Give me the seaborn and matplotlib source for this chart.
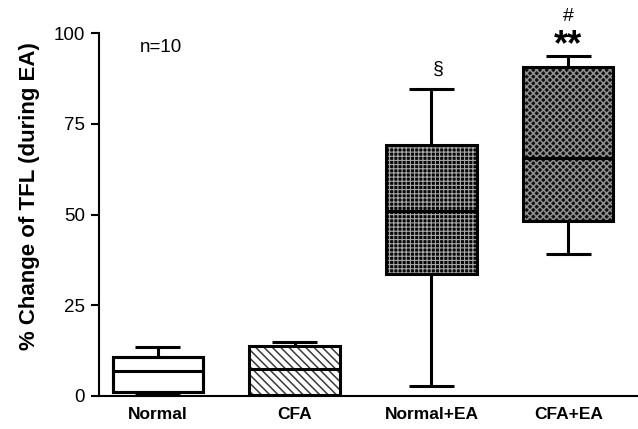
import matplotlib
matplotlib.use("Agg")
import matplotlib.pyplot as plt
from matplotlib.patches import PathPatch
import seaborn as sns
import pandas as pd

# Box summary values: [min, Q1, median, Q3, max]
groups = ["Normal", "CFA", "Normal+EA", "CFA+EA"]
normal = [0.3, 1.1, 7.0, 10.7, 13.5]
cfa = [0.4, 0.4, 7.3, 13.8, 14.8]
normal_ea = [2.8, 33.6, 51.0, 69.1, 84.6]
cfa_ea = [39.1, 48.2, 65.6, 90.6, 93.7]
yticks = [0, 25, 50, 75, 100]
annotations = [("n=10", 0.02, 96), ("§", 2.05, 90), ("**", 3, 96.6), ("#", 3, 104.6)]

rows = []
for g, vals in zip(groups, [normal, cfa, normal_ea, cfa_ea]):
    for v in vals:
        rows.append({"group": g, "value": v})
df = pd.DataFrame(rows)

sns.set_style("ticks")
plt.rcParams["font.family"] = ["Liberation Sans", "DejaVu Sans"]
plt.rcParams["hatch.linewidth"] = 1.0
plt.rcParams["text.color"] = "black"
plt.rcParams["axes.labelcolor"] = "black"
plt.rcParams["xtick.color"] = "black"
plt.rcParams["ytick.color"] = "black"
plt.rcParams["axes.edgecolor"] = "black"

fig = plt.figure(figsize=(6.38, 4.29), dpi=100)
ax = fig.add_axes([0.155, 0.077, 0.845, 0.846])

sns.boxplot(data=df, x="group", y="value", order=groups, whis=(0, 100),
            width=0.66, color="white", linecolor="black", linewidth=2.2,
            ax=ax)

boxes = [p for p in ax.patches]
styles = [
    ("white", None, "black", 1.0),
    ("white", "\\\\\\\\", "#3a3a3a", 1.1),
    ("#080808", "++++", "#a8a8a8", 0.8),
    ("#101010", "xxxxx", "#909090", 1.1),
]
for box, (fc, hatch, hc, hlw) in zip(boxes, styles):
    box.set_facecolor(fc)
    if hatch:
        box.set_hatch(hatch)
        box.set_edgecolor(hc)
        box.set_linewidth(0)
        if hasattr(box, "set_hatch_linewidth"):
            box.set_hatch_linewidth(hlw)
    outline = PathPatch(box.get_path(), transform=box.get_transform(),
                        fill=False, edgecolor="black", linewidth=2.2,
                        zorder=box.get_zorder() + 0.05)
    ax.add_patch(outline)
for line in ax.lines:
    line.set_zorder(3)
    line.set_solid_capstyle("butt")

ax.set_xlim(-0.43, 3.51)
ax.set_ylim(0, 100)
ax.set_yticks(yticks)
ax.set_yticklabels([str(t) for t in yticks], fontsize=13.5)
ax.tick_params(axis="y", length=6, width=1.5, direction="out", pad=4)
ax.tick_params(axis="x", length=0, pad=8)
for lab in ax.get_xticklabels():
    lab.set_fontweight("bold")
    lab.set_fontsize(12.5)
ax.set_xlabel("")
ax.set_ylabel("% Change of TFL (during EA)", fontsize=16, fontweight="bold")
ax.yaxis.set_label_coords(-0.11, 0.55)
sns.despine(ax=ax)
ax.spines["left"].set_linewidth(1.5)
ax.spines["bottom"].set_linewidth(1.5)

for text, x, y in annotations:
    if text == "**":
        ax.text(x, y, text, ha="center", va="center", fontsize=26,
                fontweight="bold")
    elif text == "n=10":
        ax.text(x, y, text, ha="center", va="center", fontsize=13.5)
    else:
        ax.text(x, y, text, ha="center", va="center", fontsize=14,
                clip_on=False)

fig.savefig("out.png", dpi=100)
